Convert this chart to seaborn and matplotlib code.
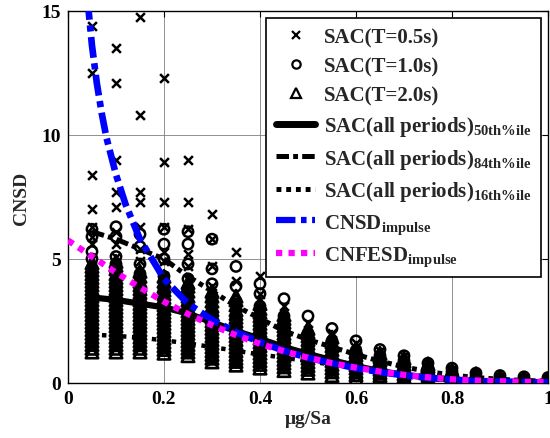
import matplotlib
matplotlib.use("Agg")
import matplotlib.pyplot as plt
import seaborn as sns
import pandas as pd
from matplotlib.lines import Line2D

# ---------------- data ----------------
x_cols = [0.05, 0.10, 0.15, 0.20, 0.25, 0.30, 0.35, 0.40, 0.45, 0.50,
          0.55, 0.60, 0.65, 0.70, 0.75, 0.80, 0.85, 0.90, 0.95, 1.00]

sac_t05 = [
    [1.5, 2.1, 2.7, 3.3, 3.9, 4.5, 5.0, 5.6, 5.9, 6.3, 7.0, 8.4, 12.5, 14.4],
    [1.4, 2.0, 2.7, 3.3, 3.9, 4.5, 5.1, 5.6, 6.1, 7.1, 7.7, 9.0, 12.1, 13.5],
    [1.4, 2.0, 2.6, 3.2, 3.8, 4.4, 4.9, 5.4, 6.3, 7.3, 7.7, 10.8, 14.75],
    [1.3, 1.9, 2.5, 3.1, 3.7, 4.3, 4.9, 5.3, 6.3, 7.3, 8.9, 12.3],
    [1.2, 1.8, 2.4, 3.0, 3.6, 4.2, 4.7, 5.2, 6.2, 7.3, 9.0],
    [0.9, 1.5, 2.1, 2.7, 3.3, 3.9, 4.7, 5.8, 6.8],
    [0.8, 1.4, 2.0, 2.6, 3.2, 4.1, 5.3],
    [0.7, 1.2, 1.8, 2.4, 3.0, 3.6, 4.3],
    [0.6, 1.1, 1.6, 2.1, 2.6, 3.1],
    [0.5, 0.9, 1.4, 1.9, 2.4],
    [0.4, 0.8, 1.2, 1.6, 2.0],
    [0.3, 0.6, 1.0, 1.3, 1.6],
    [0.3, 0.5, 0.8, 1.1, 1.3],
    [0.2, 0.4, 0.7, 0.9, 1.1],
    [0.15, 0.35, 0.55, 0.75],
    [0.1, 0.3, 0.45, 0.55],
    [0.1, 0.2, 0.35],
    [0.05, 0.15, 0.25],
    [0.05, 0.12, 0.2],
    [0.03, 0.1, 0.18],
]

sac_t10 = [
    [1.6, 2.2, 2.8, 3.4, 4.0, 4.6, 5.0, 5.3, 5.9, 6.2],
    [1.5, 2.1, 2.7, 3.3, 3.9, 4.5, 4.8, 5.1, 5.9, 6.3],
    [1.5, 2.1, 2.7, 3.3, 3.9, 4.4, 4.8, 5.5, 6.0],
    [1.4, 2.0, 2.6, 3.2, 3.8, 4.3, 5.0, 5.6, 6.2],
    [1.3, 1.9, 2.5, 3.1, 3.7, 4.2, 4.8, 5.6, 6.1],
    [1.0, 1.6, 2.2, 2.8, 3.4, 4.0, 4.6, 5.8],
    [0.9, 1.5, 2.1, 2.7, 3.3, 3.9, 4.7],
    [0.8, 1.3, 1.9, 2.5, 3.1, 3.6, 4.0],
    [0.7, 1.2, 1.7, 2.2, 2.7, 3.4],
    [0.6, 1.0, 1.5, 2.0, 2.7],
    [0.5, 0.9, 1.3, 1.7, 2.2],
    [0.4, 0.7, 1.0, 1.3, 1.7],
    [0.35, 0.6, 0.85, 1.1, 1.35],
    [0.3, 0.5, 0.7, 0.9, 1.1],
    [0.2, 0.4, 0.6, 0.8],
    [0.15, 0.3, 0.45, 0.6],
    [0.1, 0.25, 0.4],
    [0.08, 0.18, 0.3],
    [0.05, 0.15, 0.25],
    [0.04, 0.12, 0.22],
]

sac_t20 = [
    [1.25, 1.4, 1.55, 1.7, 1.85, 2.0, 2.15, 2.3, 2.45, 2.6, 2.75, 2.9, 3.05,
     3.2, 3.35, 3.5, 3.65, 3.8, 3.95, 4.1, 4.25, 4.4, 4.55, 4.7, 4.85],
    [1.25, 1.4, 1.55, 1.7, 1.85, 2.0, 2.15, 2.3, 2.45, 2.6, 2.75, 2.9, 3.05,
     3.2, 3.35, 3.5, 3.65, 3.8, 3.95, 4.1, 4.25, 4.4, 4.6, 4.75, 4.9],
    [1.25, 1.4, 1.55, 1.7, 1.85, 2.0, 2.15, 2.3, 2.45, 2.6, 2.75, 2.9, 3.05,
     3.2, 3.35, 3.5, 3.65, 3.8, 3.95, 4.1, 4.3, 4.5],
    [1.2, 1.35, 1.5, 1.65, 1.8, 1.95, 2.1, 2.25, 2.4, 2.55, 2.7, 2.85, 3.0,
     3.15, 3.3, 3.45, 3.6, 3.75, 3.9, 4.1, 4.3],
    [1.1, 1.25, 1.4, 1.55, 1.7, 1.85, 2.0, 2.15, 2.3, 2.45, 2.6, 2.75, 2.9,
     3.05, 3.2, 3.35, 3.5, 3.7, 3.9, 4.05],
    [0.85, 1.0, 1.15, 1.3, 1.45, 1.6, 1.75, 1.9, 2.05, 2.2, 2.35, 2.5, 2.65,
     2.8, 2.95, 3.1, 3.3, 3.5, 3.7],
    [0.72, 0.87, 1.0, 1.15, 1.3, 1.45, 1.6, 1.75, 1.9, 2.05, 2.2, 2.35, 2.5,
     2.65, 2.8, 2.95, 3.15, 3.35, 3.5],
    [0.6, 0.75, 0.9, 1.05, 1.2, 1.35, 1.5, 1.65, 1.8, 1.95, 2.1, 2.25, 2.4,
     2.55, 2.7, 2.85, 3.0, 3.2],
    [0.5, 0.65, 0.8, 0.95, 1.1, 1.25, 1.4, 1.55, 1.7, 1.85, 2.0, 2.15, 2.3,
     2.45, 2.6, 2.75],
    [0.4, 0.55, 0.7, 0.85, 1.0, 1.15, 1.3, 1.45, 1.6, 1.75, 1.9, 2.05, 2.2],
    [0.3, 0.45, 0.6, 0.75, 0.9, 1.05, 1.2, 1.35, 1.5, 1.65, 1.85],
    [0.2, 0.33, 0.46, 0.6, 0.73, 0.86, 1.0, 1.13, 1.26, 1.4],
    [0.18, 0.3, 0.42, 0.55, 0.68, 0.8, 0.93, 1.06, 1.2],
    [0.15, 0.25, 0.37, 0.5, 0.62, 0.75, 0.88, 1.0],
    [0.12, 0.22, 0.33, 0.45, 0.56, 0.67, 0.77],
    [0.1, 0.18, 0.27, 0.36, 0.45, 0.52],
    [0.08, 0.15, 0.23, 0.3, 0.37],
    [0.06, 0.12, 0.18, 0.24],
    [0.05, 0.1, 0.16],
    [0.03, 0.08, 0.14],
]

sac_p50 = [3.45, 3.35, 3.2, 3.05, 2.8, 2.45, 2.1, 1.78, 1.45, 1.17,
           0.92, 0.68, 0.48, 0.33, 0.22, 0.14, 0.09, 0.06, 0.04, 0.03]
sac_p84 = [6.1, 5.8, 5.4, 5.0, 4.3, 3.7, 3.1, 2.6, 2.1, 1.75,
           1.45, 1.15, 0.88, 0.65, 0.46, 0.32, 0.22, 0.15, 0.1, 0.08]
sac_p16 = [1.95, 1.9, 1.83, 1.72, 1.6, 1.45, 1.3, 1.15, 1.02, 0.88,
           0.74, 0.6, 0.47, 0.35, 0.25, 0.17, 0.11, 0.07, 0.05, 0.03]

cnsd_x = [0.04, 0.05, 0.06, 0.07, 0.08, 0.10, 0.12, 0.15, 0.20, 0.25, 0.30, 0.35,
          0.40, 0.45, 0.50, 0.55, 0.60, 0.65, 0.70, 0.75, 0.80, 0.85, 0.90, 0.95, 1.00]
cnsd_y = [15.6, 13.6, 12.1, 10.9, 9.9, 8.4, 7.2, 5.8, 4.2, 3.2, 2.55, 2.05,
          1.65, 1.3, 1.02, 0.8, 0.6, 0.44, 0.31, 0.21, 0.13, 0.08, 0.05, 0.03, 0.02]

cnfesd_x = [0.00, 0.05, 0.10, 0.15, 0.20, 0.25, 0.30, 0.35, 0.40, 0.45, 0.50,
            0.55, 0.60, 0.65, 0.70, 0.75, 0.80, 0.85, 0.90, 0.95, 1.00]
cnfesd_y = [5.75, 5.1, 4.45, 3.85, 3.28, 2.78, 2.33, 1.93, 1.58, 1.28, 1.02,
            0.8, 0.62, 0.46, 0.33, 0.23, 0.15, 0.1, 0.07, 0.05, 0.04]

x_ticks = [0, 0.2, 0.4, 0.6, 0.8, 1.0]
x_ticklabels = ["0", "0.2", "0.4", "0.6", "0.8", "1"]
y_ticks = [0, 5, 10, 15]
y_ticklabels = ["0", "5", "10", "15"]

legend_labels = [
    "SAC(T=0.5s)", "SAC(T=1.0s)", "SAC(T=2.0s)",
    r"SAC(all periods)$_{\mathrm{50th\%ile}}$",
    r"SAC(all periods)$_{\mathrm{84th\%ile}}$",
    r"SAC(all periods)$_{\mathrm{16th\%ile}}$",
    r"CNSD$_{\mathrm{impulse}}$",
    r"CNFESD$_{\mathrm{impulse}}$",
]

# ---------------- style ----------------
sns.set_style("white")
plt.rcParams.update({
    "font.family": ["Liberation Serif", "DejaVu Serif"],
    "font.weight": "bold",
    "axes.labelweight": "bold",
    "mathtext.fontset": "custom",
    "mathtext.rm": "Liberation Serif:bold",
    "mathtext.bf": "Liberation Serif:bold",
    "mathtext.it": "Liberation Serif:bold",
    "lines.scale_dashes": False,
    "axes.edgecolor": "black",
})


def long_frame(cols, name):
    rows = []
    for xv, vals in zip(x_cols, cols):
        for v in vals:
            rows.append((xv, v, name))
    return pd.DataFrame(rows, columns=["x", "y", "period"])


df05 = long_frame(sac_t05, "T=0.5s")
df10 = long_frame(sac_t10, "T=1.0s")
df20 = long_frame(sac_t20, "T=2.0s")

fig = plt.figure(figsize=(5.5, 4.39), dpi=100)
ax = fig.add_axes([68 / 550, 1 - 384 / 439, 480 / 550, 372 / 439])

# scatter points
sns.scatterplot(data=df20, x="x", y="y", marker="^", s=80, facecolors="none",
                edgecolor="k", linewidth=1.9, ax=ax, legend=False, zorder=2)
sns.scatterplot(data=df10, x="x", y="y", marker="o", s=55, facecolors="none",
                edgecolor="k", linewidth=1.8, ax=ax, legend=False, zorder=2)
sns.scatterplot(data=df05, x="x", y="y", marker="x", s=40, color="k",
                linewidth=1.8, ax=ax, legend=False, zorder=2)
for coll in ax.collections[:2]:
    coll.set_facecolor("none")

# percentile lines
sns.lineplot(x=x_cols, y=sac_p50, color="k", linewidth=4.5, ax=ax, zorder=3)
sns.lineplot(x=x_cols, y=sac_p84, color="k", linewidth=3.6,
             linestyle=(0, (9, 3, 3.5, 3)), ax=ax, zorder=3)
sns.lineplot(x=x_cols, y=sac_p16, color="k", linewidth=3.2,
             linestyle=(0, (3.2, 4)), ax=ax, zorder=3)
sns.lineplot(x=cnsd_x, y=cnsd_y, color="#0000FF", linewidth=4.8,
             linestyle=(0, (15, 4, 4.5, 4)), ax=ax, zorder=4)
sns.lineplot(x=cnfesd_x, y=cnfesd_y, color="#FF00FF", linewidth=4.5,
             linestyle=(0, (4.5, 4.5)), ax=ax, zorder=5)

ax.set_xlim(0, 1)
ax.set_ylim(0, 15)
ax.set_xticks(x_ticks)
ax.set_xticklabels(x_ticklabels)
ax.set_yticks(y_ticks)
ax.set_yticklabels(y_ticklabels)
ax.tick_params(direction="in", top=True, right=True, length=4, width=0.8,
               labelsize=14, pad=5, colors="k")
ax.grid(True, color="#7f7f7f", linewidth=0.6)
ax.set_axisbelow(True)
for sp in ax.spines.values():
    sp.set_linewidth(1.0)
    sp.set_color("k")
ax.set_xlabel("\u03bcg/Sa", fontsize=14, fontweight="bold", labelpad=2)
ax.set_ylabel("CNSD", fontsize=14, fontweight="bold", labelpad=8)

handles = [
    Line2D([], [], marker="x", ls="none", color="k", ms=5.5, mew=1.6),
    Line2D([], [], marker="o", ls="none", color="k", mfc="none", ms=6, mew=1.6),
    Line2D([], [], marker="^", ls="none", color="k", mfc="none", ms=6.5, mew=1.6),
    Line2D([], [], color="k", lw=5),
    Line2D([], [], color="k", lw=3.6, ls=(0, (9, 3, 3.5, 3))),
    Line2D([], [], color="k", lw=3.6, ls=(0, (3.5, 3.5))),
    Line2D([], [], color="#0000FF", lw=4.5, ls=(0, (14, 4, 4, 4))),
    Line2D([], [], color="#FF00FF", lw=4.5, ls=(0, (4.5, 4.5))),
]
leg = ax.legend(handles, legend_labels, loc="upper right", fontsize=15,
                frameon=True, fancybox=False, edgecolor="k", framealpha=1,
                handlelength=1.9, handletextpad=0.4, labelspacing=0.42,
                borderpad=0.45, borderaxespad=0.35)
leg.get_frame().set_linewidth(1.2)

fig.savefig("out.png", dpi=100)
